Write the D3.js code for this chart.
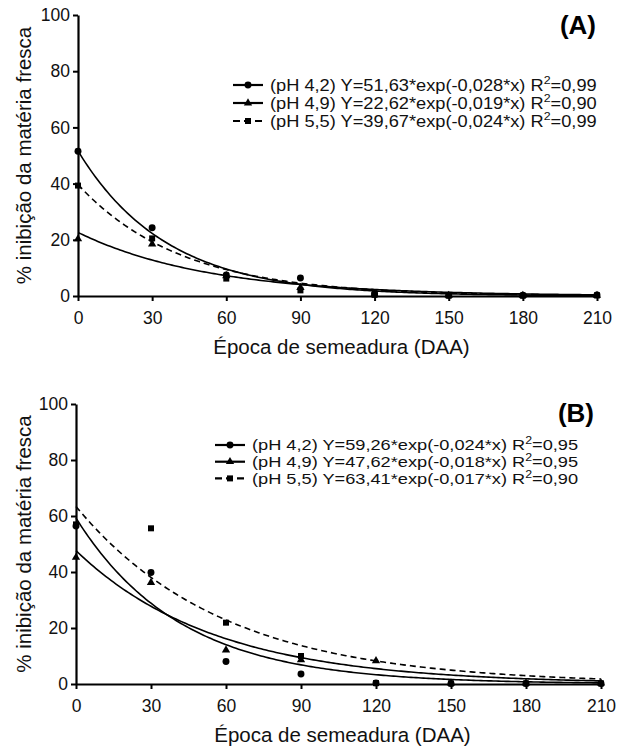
<!DOCTYPE html>
<html>
<head>
<meta charset="utf-8">
<script src="https://cdn.jsdelivr.net/npm/d3@7"></script>
<style>
	body { margin: 0; background: #fff; }
	svg { display: block; font-family: "Liberation Sans", Arial, sans-serif; }
</style>
</head>
<body>
<script>
// Sowing times (days after application) and axis ticks
var days = [0, 30, 60, 90, 120, 150, 180, 210];
var xTicks = [0, 30, 60, 90, 120, 150, 180, 210];
var yTicks = [0, 20, 40, 60, 80, 100];
var phLabels = ["(pH 4,2)", "(pH 4,9)", "(pH 5,5)"];

// Panel A observed values
var aPh42 = [51.5, 24.3, 7.5, 6.4, 0.8, 0.3, 0.3, 0.4];
var aPh49 = [20.3, 18.5, 7.2, 3.0, 0.6, 0.2, 0.2, 0.2];
var aPh55 = [39.3, 20.5, 6.2, 2.0, 0.4, 0.1, 0.1, 0.2];
// Panel A fitted models Y = a*exp(-b*x)
var aCoefA = [51.63, 22.62, 39.67];
var aCoefB = [0.028, 0.019, 0.024];
var aR2 = ["0,99", "0,90", "0,99"];

// Panel B observed values
var bPh42 = [56.4, 39.8, 8.0, 3.6, 0.4, 0.2, 0.2, 0.2];
var bPh49 = [45.2, 36.2, 12.1, 8.6, 8.3, 0.3, 0.3, 0.3];
var bPh55 = [57.0, 55.6, 21.9, 10.0, 0.3, 0.2, 0.2, 0.2];
// Panel B fitted models
var bCoefA = [59.26, 47.62, 63.41];
var bCoefB = [0.024, 0.018, 0.017];
var bR2 = ["0,95", "0,95", "0,90"];

var symbols = [d3.symbolCircle, d3.symbolTriangle, d3.symbolSquare];
var symSizes = [38, 30, 36];
var dashes = [null, null, "6,4"];

var svg = d3.select("body")
	.append("svg")
		.attr("width", 620)
		.attr("height", 755);

function fmt(v, n) {
	return d3.format("." + n + "f")(v).replace(".", ",");
}

function drawPanel(p) {
	var x = d3.scaleLinear().domain([0, 210]).range([p.left, p.right]);
	var y = d3.scaleLinear().domain([0, 100]).range([p.bottom, p.top]);
	var g = svg.append("g");

	// fitted curves
	var xs = d3.range(0, 210.5, 1);
	var line = d3.line()
		.x(function(d) { return x(d[0]); })
		.y(function(d) { return y(d[1]); });
	p.coefA.forEach(function(a, i) {
		var b = p.coefB[i];
		g.append("path")
			.datum(xs.map(function(t) { return [t, a * Math.exp(-b * t)]; }))
			.attr("d", line)
			.attr("fill", "none")
			.attr("stroke", "#000")
			.attr("stroke-width", 1.6)
			.attr("stroke-dasharray", dashes[i]);
	});

	// axes
	var xAxis = g.append("g")
		.attr("transform", "translate(0," + p.bottom + ")")
		.call(d3.axisBottom(x).tickValues(xTicks).tickSize(5).tickSizeOuter(0).tickPadding(11));
	var yAxis = g.append("g")
		.attr("transform", "translate(" + p.left + ",0)")
		.call(d3.axisLeft(y).tickValues(yTicks).tickSize(5).tickSizeOuter(0).tickPadding(3));
	[xAxis, yAxis].forEach(function(ax) {
		ax.select(".domain").attr("stroke-width", 2.2);
		ax.selectAll(".tick line").attr("stroke-width", 2);
		ax.selectAll(".tick text")
			.attr("font-size", 17.5)
			.attr("font-family", "Liberation Sans, Arial, sans-serif")
			.attr("fill", "#111");
	});

	// observed points
	p.series.forEach(function(vals, i) {
		g.append("g").selectAll("path")
			.data(vals)
			.enter().append("path")
				.attr("d", d3.symbol().type(symbols[i]).size(symSizes[i]))
				.attr("transform", function(d, j) { return "translate(" + x(days[j]) + "," + y(d) + ")"; })
				.attr("fill", "#000");
	});

	// titles
	g.append("text")
		.attr("x", (p.left + p.right) / 2 + 4)
		.attr("y", p.bottom + 58)
		.attr("text-anchor", "middle")
		.attr("font-size", 20.5)
		.attr("fill", "#111")
		.text("Época de semeadura (DAA)");
	g.append("text")
		.attr("transform", "translate(31," + ((p.top + p.bottom) / 2) + ") rotate(-90)")
		.attr("text-anchor", "middle")
		.attr("font-size", 20.5)
		.attr("fill", "#111")
		.text("% inibição da matéria fresca");
	g.append("text")
		.attr("x", p.tagX)
		.attr("y", p.tagY)
		.attr("text-anchor", "end")
		.attr("font-size", 26)
		.attr("font-weight", "bold")
		.text(p.tag);

	// legend (text is a little stretched sideways, as in the original)
	p.coefA.forEach(function(a, i) {
		var ly = p.legY + i * p.legStep;
		var lg = g.append("g");
		lg.append("line")
			.attr("x1", p.legX).attr("x2", p.legX + 30)
			.attr("y1", ly).attr("y2", ly)
			.attr("stroke", "#000")
			.attr("stroke-width", 2.2)
			.attr("stroke-dasharray", i === 2 ? "7,4" : null);
		lg.append("path")
			.attr("d", d3.symbol().type(symbols[i]).size(symSizes[i]))
			.attr("transform", "translate(" + (p.legX + 15) + "," + ly + ")");
		var t = lg.append("text")
			.attr("transform", "translate(" + (p.legX + 37) + "," + (ly + p.legFont * 0.36) + ") scale(" + p.legScale + ",1)")
			.attr("font-size", p.legFont)
			.attr("fill", "#111");
		t.append("tspan").text(phLabels[i] + " Y=" + fmt(a, 2) + "*exp(-" + fmt(p.coefB[i], 3) + "*x) R");
		t.append("tspan").attr("font-size", p.legFont * 0.68).attr("dy", -p.legFont * 0.4).text("2");
		t.append("tspan").attr("dy", p.legFont * 0.4).text("=" + p.r2[i]);
	});
}

drawPanel({
	left: 78, right: 597, top: 15, bottom: 296,
	series: [aPh42, aPh49, aPh55],
	coefA: aCoefA, coefB: aCoefB, r2: aR2,
	tag: "(A)", tagX: 596, tagY: 34,
	legX: 233, legY: 85, legStep: 18, legFont: 16, legScale: 1.14
});

drawPanel({
	left: 76, right: 601, top: 404, bottom: 684,
	series: [bPh42, bPh49, bPh55],
	coefA: bCoefA, coefB: bCoefB, r2: bR2,
	tag: "(B)", tagX: 594, tagY: 422,
	legX: 215, legY: 445, legStep: 16.7, legFont: 14.8, legScale: 1.23
});
</script>
</body>
</html>
